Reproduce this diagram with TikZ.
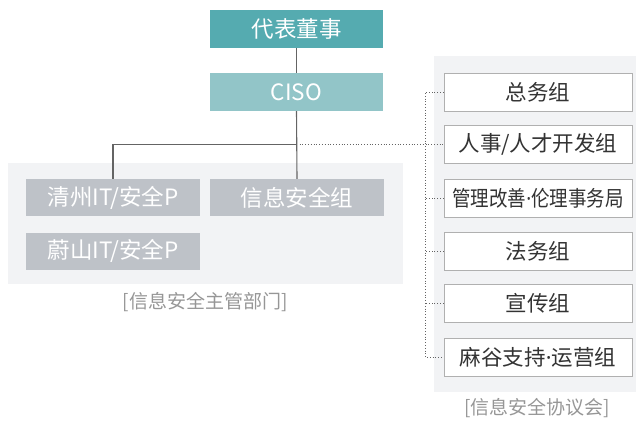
\documentclass[tikz,border=0pt]{standalone}
\usepackage{fontspec}
\setmainfont{Noto Sans CJK SC}
\newfontfamily\narrowdot{Noto Sans}
\usepackage{tikz}
\usetikzlibrary{positioning,calc}
\usepackage{xcolor}
\definecolor{headteal}{RGB}{85,171,176}
\definecolor{cisoteal}{RGB}{146,197,200}
\definecolor{unitgray}{RGB}{190,194,200}
\definecolor{panelbg}{RGB}{242,243,245}
\definecolor{framegray}{RGB}{176,176,176}
\definecolor{linegray}{RGB}{100,100,100}
\definecolor{textdark}{RGB}{51,51,51}
\definecolor{captiongray}{RGB}{150,150,150}

\newcommand{\mdot}{{\narrowdot ·}}

\tikzset{
  topbox/.style={minimum width=173pt,minimum height=38pt,inner sep=0pt,text=white,font=\fontsize{22.5}{24}\selectfont},
  unitbox/.style={fill=unitgray,minimum width=174pt,minimum height=37pt,inner sep=0pt,text=white,font=\fontsize{22.5}{24}\selectfont},
  teambox/.style={draw=framegray,fill=white,line width=0.8pt,minimum width=188pt,minimum height=38pt,inner sep=0pt,text=textdark,font=\fontsize{21.5}{23}\selectfont},
  caption/.style={text=captiongray,font=\fontsize{19}{21}\selectfont},
  solidlink/.style={draw=linegray,line width=1.1pt},
  dotlink/.style={draw=linegray,line width=0.8pt,dotted}
}

\begin{document}
\begin{tikzpicture}[x=1pt,y=-1pt]
\useasboundingbox (0,0) rectangle (636,421);
% Panels
\fill[panelbg] (8,163) rectangle (403,284);
\fill[panelbg] (434,56) rectangle (636,392);
% Top of the chart
\node[topbox,fill=headteal] (board) at (296.5,29) {代表董事};
\node[topbox,fill=cisoteal] (ciso) at (296.5,92) {CISO};
% Security units
\node[unitbox] (qingzhou) at (113,197.5) {清州IT/安全P};
\node[unitbox] (infosec) at (297,197.5) {信息安全组};
\node[unitbox] (ulsan) at (113,251) {蔚山IT/安全P};
\node[caption] (leftcap) at (205,302) {[信息安全主管部门]};
% Council teams
\node[teambox] (general) at (538,92) {总务组};
\node[teambox] (hr) at (538,144.5) {人事/人才开发组};
\node[teambox] (ethics) at (538,198) {\scalebox{0.86}[1]{管理改善\mdot 伦理事务局}};
\node[teambox] (legal) at (538,251) {法务组};
\node[teambox] (pr) at (538,303.5) {宣传组};
\node[teambox] (support) at (538,357) {麻谷支持\mdot 运营组};
\node[caption] (rightcap) at (537,408) {[信息安全协议会]};
% Solid links
\coordinate (split) at (ciso.south |- hr.west);
\draw[solidlink] (board) -- (ciso);
\draw[solidlink] (ciso.south) -- (infosec.north);
\draw[solidlink] (split) -| (qingzhou.north);
% Dotted links
\coordinate (bus) at (425,0);
\draw[dotlink] ($(split)+(3,0)$) -- (hr.west);
\draw[dotlink] (general.west) -- (general.west -| bus) -- (support.west -| bus) -- (support.west);
\draw[dotlink] (ethics.west) -- (ethics.west -| bus);
\draw[dotlink] (legal.west) -- (legal.west -| bus);
\draw[dotlink] (pr.west) -- (pr.west -| bus);
\end{tikzpicture}
\end{document}
